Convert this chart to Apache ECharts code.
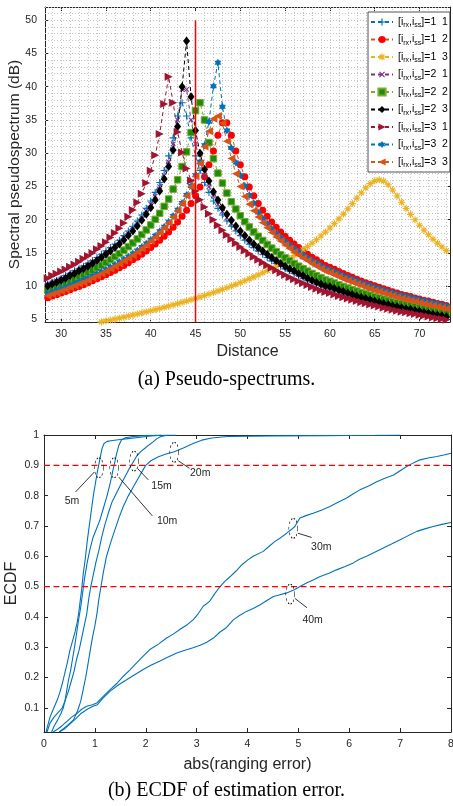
<!DOCTYPE html>
<html><head><meta charset="utf-8">
<script src="https://cdn.jsdelivr.net/npm/echarts@6/dist/echarts.min.js"></script>
<style>html,body{margin:0;padding:0;background:#fff}#main{width:453px;height:806px}</style>
</head><body><div id="main"></div>
<script>
// ---------- (a) pseudo-spectrum data ----------
const distance = [28.5,29,29.5,30,30.5,31,31.5,32,32.5,33,33.5,34,34.5,35,35.5,36,36.5,37,37.5,38,38.5,39,39.5,40,40.5,41,41.5,42,42.5,43,43.5,44,44.5,45,45.5,46,46.5,47,47.5,48,48.5,49,49.5,50,50.5,51,51.5,52,52.5,53,53.5,54,54.5,55,55.5,56,56.5,57,57.5,58,58.5,59,59.5,60,60.5,61,61.5,62,62.5,63,63.5,64,64.5,65,65.5,66,66.5,67,67.5,68,68.5,69,69.5,70,70.5,71,71.5,72,72.5,73];
const spec11 = [10.3,10.6,10.9,11.2,11.6,11.9,12.3,12.6,13.0,13.4,13.8,14.3,14.8,15.3,15.8,16.3,16.9,17.6,18.3,19.0,19.8,20.7,21.7,22.8,24.1,25.6,27.4,29.6,32.3,35.6,37.6,35.6,32.3,29.6,27.4,25.6,24.1,22.8,21.7,20.7,19.8,19.0,18.3,17.6,16.9,16.3,15.8,15.3,14.8,14.3,13.8,13.4,13.0,12.6,12.3,11.9,11.6,11.2,10.9,10.6,10.3,10.1,9.8,9.6,9.38,9.15,8.93,8.72,8.5,8.31,8.12,7.92,7.75,7.56,7.38,7.22,7.05,6.89,6.74,6.58,6.45,6.33,6.19,6.05,5.91,5.77,5.64,5.51,5.39,5.26];
const spec12 = [8.25,8.5,8.7,8.95,9.2,9.45,9.7,9.95,10.2,10.5,10.8,11.1,11.4,11.7,12.05,12.4,12.75,13.1,13.5,13.95,14.35,14.8,15.3,15.8,16.35,16.9,17.5,18.15,18.85,19.65,20.5,21.4,22.45,23.6,24.9,26.45,28.25,30.35,32.7,34.6,34.6,32.7,30.35,28.25,26.45,24.9,23.6,22.45,21.4,20.5,19.65,18.85,18.15,17.5,16.9,16.35,15.8,15.3,14.8,14.35,13.95,13.5,13.1,12.85,12.53,12.2,11.88,11.6,11.33,11.05,10.78,10.5,10.28,10.05,9.83,9.6,9.38,9.15,8.98,8.75,8.6,8.45,8.23,8.05,7.88,7.75,7.58,7.4,7.28,7.1];
const spec13 = [null,null,null,null,null,null,null,null,null,null,null,4.47,4.61,4.75,4.89,5.03,5.18,5.33,5.48,5.64,5.8,5.96,6.12,6.29,6.46,6.63,6.81,6.99,7.17,7.36,7.56,7.75,7.95,8.16,8.37,8.58,8.81,9.03,9.27,9.51,9.75,10.0,10.27,10.53,10.81,11.1,11.39,11.69,12.01,12.34,12.68,13.03,13.39,13.77,14.17,14.59,15.02,15.47,15.95,16.45,16.98,17.54,18.13,18.75,19.41,20.11,20.84,21.62,22.42,23.24,24.04,24.79,25.42,25.85,26.0,25.8,25.25,24.46,23.56,22.61,21.68,20.79,19.99,19.16,18.42,17.73,17.07,16.46,15.89,15.34];
const spec21 = [10.2,10.5,10.8,11.1,11.4,11.75,12.1,12.45,12.85,13.25,13.65,14.05,14.55,15.0,15.5,16.05,16.65,17.25,17.9,18.65,19.45,20.3,21.25,22.3,23.55,24.95,26.65,28.7,31.4,35.0,39.6,39.6,35.0,31.4,28.7,26.65,24.95,23.55,22.3,21.25,20.3,19.45,18.65,17.9,17.25,16.65,16.05,15.5,15.0,14.55,14.05,13.65,13.25,12.85,12.45,12.1,11.75,11.4,11.1,10.8,10.5,10.2,9.9,9.75,9.53,9.25,9.08,8.85,8.63,8.4,8.23,8.05,7.83,7.65,7.48,7.3,7.13,7.0,6.83,6.65,6.55,6.4,6.28,6.15,5.98,5.85,5.73,5.6,5.48,5.35];
const spec22 = [9.36,9.6,9.9,10.15,10.45,10.75,11.05,11.4,11.7,12.05,12.4,12.77,13.15,13.56,14.0,14.44,14.9,15.4,15.94,16.5,17.1,17.76,18.45,19.2,20.05,20.95,22.0,23.1,24.6,26.0,28.0,30.2,33.1,36.4,37.6,35.0,31.6,29.2,27.0,25.5,24.0,22.7,21.6,20.6,19.7,18.9,18.15,17.5,16.87,16.27,15.72,15.2,14.72,14.25,13.82,13.4,13.0,12.62,12.25,11.9,11.56,11.24,10.93,10.72,10.46,10.2,9.95,9.71,9.48,9.25,9.04,8.82,8.63,8.42,8.23,8.04,7.86,7.68,7.51,7.34,7.2,7.06,6.91,6.75,6.61,6.46,6.32,6.17,6.04,5.9];
const spec23 = [10.0,10.3,10.6,10.9,11.2,11.6,11.9,12.3,12.6,13.0,13.4,13.85,14.3,14.8,15.3,15.8,16.35,16.95,17.6,18.3,19.05,19.9,20.8,21.8,22.95,24.3,26.1,28.0,30.5,34.0,40.0,46.9,38.5,33.4,30.0,27.6,25.8,24.2,22.95,21.8,20.8,19.9,19.05,18.3,17.6,16.95,16.35,15.8,15.3,14.8,14.3,13.85,13.4,13.0,12.6,12.3,11.9,11.6,11.2,10.9,10.6,10.3,10.0,9.9,9.63,9.4,9.18,8.95,8.73,8.5,8.33,8.15,7.93,7.75,7.58,7.4,7.23,7.05,6.93,6.75,6.6,6.5,6.33,6.2,6.08,5.9,5.78,5.65,5.53,5.4];
const spec31 = [11.2,11.55,11.85,12.2,12.5,12.9,13.25,13.65,14.1,14.55,15.0,15.55,16.05,16.6,17.3,18.0,18.7,19.5,20.45,21.45,22.6,23.9,25.5,27.35,29.7,32.9,37.4,41.5,37.6,33.2,30.1,27.7,25.9,24.3,23.0,21.9,20.9,20.0,19.15,18.4,17.7,17.06,16.46,15.9,15.37,14.88,14.41,13.96,13.54,13.13,12.75,12.38,12.02,11.68,11.35,11.04,10.73,10.44,10.15,9.88,9.61,9.35,9.1,8.95,8.75,8.53,8.34,8.14,7.95,7.77,7.59,7.41,7.25,7.08,6.92,6.76,6.61,6.45,6.31,6.16,6.05,5.93,5.8,5.67,5.54,5.41,5.29,5.17,5.05,4.93];
const spec32 = [8.84,9.07,9.31,9.56,9.81,10.07,10.34,10.62,10.91,11.2,11.51,11.83,12.16,12.5,12.86,13.23,13.62,14.03,14.46,14.9,15.37,15.87,16.41,16.98,17.58,18.24,18.94,19.7,20.55,21.48,22.52,23.7,25.07,26.7,28.67,31.2,34.74,40.07,43.62,37.0,33.4,30.8,28.6,26.7,25.1,23.7,22.5,21.09,20.2,19.4,18.65,17.97,17.34,16.74,16.2,15.68,15.19,14.72,14.28,13.86,13.46,13.08,12.71,12.46,12.15,11.85,11.57,11.28,11.02,10.76,10.51,10.27,10.04,9.81,9.6,9.38,9.18,8.97,8.79,8.59,8.43,8.28,8.11,7.94,7.78,7.61,7.46,7.3,7.16,7.01];
const spec33 = [8.54,8.8,9.0,9.25,9.5,9.8,10.05,10.35,10.6,10.9,11.25,11.55,11.9,12.25,12.6,13.0,13.35,13.8,14.2,14.65,15.15,15.65,16.2,16.8,17.4,18.1,18.8,19.55,20.4,21.35,22.4,23.6,25.0,26.55,28.45,31.0,33.3,35.2,35.6,34.5,31.8,29.2,26.9,25.0,23.5,22.3,21.35,20.4,19.55,18.8,18.05,17.4,16.8,16.2,15.65,15.15,14.65,14.2,13.8,13.35,13.0,12.6,12.25,12.0,11.68,11.4,11.08,10.8,10.58,10.3,10.08,9.8,9.58,9.35,9.18,8.95,8.73,8.55,8.33,8.15,8.0,7.85,7.68,7.5,7.33,7.2,7.03,6.9,6.73,6.6];
const legendPairs = ['1  1','1  2','1  3','2  1','2  2','2  3','3  1','3  2','3  3'];
const xTicksA = [30,35,40,45,50,55,60,65,70];
const yTicksA = [5,10,15,20,25,30,35,40,45,50];
const trueDistance = 45;
const trueLineSpan = [4.6, 50];

// ---------- (b) ECDF data ----------
const ecdf5m = [[0.04,0.02],[0.08,0.045],[0.12,0.07],[0.17,0.09],[0.22,0.11],[0.27,0.13],[0.31,0.15],[0.36,0.18],[0.41,0.215],[0.46,0.25],[0.51,0.29],[0.56,0.32],[0.61,0.35],[0.65,0.38],[0.68,0.41],[0.71,0.45],[0.74,0.49],[0.77,0.54],[0.81,0.59],[0.85,0.65],[0.89,0.7],[0.93,0.75],[0.97,0.8],[1.01,0.84],[1.05,0.88],[1.08,0.905],[1.11,0.93],[1.14,0.955],[1.18,0.972],[1.24,0.979],[1.35,0.982],[1.5,0.985],[1.65,0.988],[1.85,0.992],[2.05,0.996],[2.3,0.999],[2.6,1.0]];
const ecdf10m = [[0.15,0.02],[0.2,0.04],[0.27,0.06],[0.33,0.08],[0.38,0.1],[0.42,0.13],[0.45,0.16],[0.48,0.19],[0.52,0.22],[0.56,0.26],[0.6,0.3],[0.64,0.345],[0.68,0.39],[0.72,0.43],[0.76,0.48],[0.8,0.53],[0.85,0.58],[0.9,0.62],[0.96,0.66],[1.03,0.69],[1.1,0.72],[1.17,0.76],[1.24,0.8],[1.3,0.84],[1.35,0.88],[1.39,0.91],[1.43,0.94],[1.47,0.965],[1.52,0.983],[1.6,0.991],[1.75,0.995],[2.0,0.998],[2.3,1.0]];
const ecdf15m = [[0.06,0.02],[0.12,0.05],[0.2,0.07],[0.28,0.085],[0.36,0.1],[0.42,0.125],[0.48,0.155],[0.54,0.19],[0.59,0.22],[0.64,0.26],[0.69,0.29],[0.74,0.33],[0.79,0.37],[0.84,0.41],[0.88,0.46],[0.92,0.5],[0.97,0.54],[1.02,0.58],[1.08,0.62],[1.13,0.66],[1.19,0.7],[1.26,0.74],[1.34,0.78],[1.43,0.81],[1.52,0.84],[1.6,0.865],[1.68,0.89],[1.75,0.91],[1.82,0.93],[1.9,0.945],[1.99,0.957],[2.07,0.968],[2.15,0.978],[2.22,0.988],[2.3,0.995],[2.45,1.0]];
const ecdf20m = [[0.3,0.02],[0.45,0.04],[0.58,0.06],[0.66,0.09],[0.72,0.12],[0.77,0.16],[0.82,0.2],[0.86,0.24],[0.9,0.28],[0.95,0.33],[1.0,0.37],[1.04,0.41],[1.08,0.46],[1.12,0.5],[1.17,0.55],[1.23,0.6],[1.31,0.645],[1.4,0.69],[1.48,0.73],[1.56,0.765],[1.66,0.8],[1.76,0.83],[1.86,0.86],[1.93,0.88],[2.0,0.9],[2.1,0.915],[2.25,0.928],[2.4,0.937],[2.56,0.945],[2.75,0.958],[2.93,0.972],[3.1,0.983],[3.3,0.99],[3.6,0.995],[4.5,0.997],[5.5,0.998],[6.5,0.999],[7.0,1.0]];
const ecdf30m = [[0.18,0.02],[0.27,0.03],[0.35,0.04],[0.45,0.055],[0.55,0.07],[0.64,0.08],[0.74,0.095],[0.84,0.105],[0.95,0.11],[1.04,0.116],[1.15,0.135],[1.3,0.16],[1.43,0.18],[1.56,0.204],[1.69,0.225],[1.82,0.248],[1.95,0.27],[2.08,0.292],[2.25,0.31],[2.41,0.33],[2.54,0.343],[2.67,0.358],[2.8,0.372],[2.93,0.39],[3.03,0.41],[3.13,0.435],[3.25,0.45],[3.35,0.475],[3.46,0.5],[3.56,0.518],[3.66,0.533],[3.78,0.552],[3.89,0.572],[4.0,0.587],[4.11,0.6],[4.31,0.616],[4.42,0.632],[4.54,0.649],[4.66,0.662],[4.77,0.676],[4.86,0.688],[4.93,0.698],[5.03,0.726],[5.15,0.734],[5.29,0.742],[5.45,0.752],[5.62,0.764],[5.78,0.778],[5.95,0.792],[6.08,0.806],[6.21,0.819],[6.38,0.832],[6.54,0.846],[6.7,0.857],[6.87,0.868],[7.0,0.882],[7.13,0.896],[7.26,0.908],[7.39,0.918],[7.55,0.924],[7.72,0.929],[7.86,0.934],[8.0,0.94]];
const ecdf40m = [[0.3,0.02],[0.4,0.03],[0.5,0.045],[0.6,0.06],[0.72,0.08],[0.85,0.095],[0.96,0.105],[1.05,0.11],[1.15,0.13],[1.3,0.155],[1.46,0.175],[1.63,0.193],[1.79,0.21],[1.95,0.226],[2.1,0.24],[2.28,0.254],[2.45,0.268],[2.61,0.281],[2.77,0.29],[2.93,0.298],[3.07,0.306],[3.2,0.316],[3.33,0.33],[3.46,0.35],[3.59,0.365],[3.72,0.39],[3.85,0.405],[3.98,0.418],[4.12,0.428],[4.25,0.44],[4.38,0.454],[4.51,0.467],[4.64,0.473],[4.77,0.479],[4.93,0.49],[5.05,0.502],[5.16,0.512],[5.3,0.522],[5.43,0.533],[5.6,0.544],[5.75,0.555],[5.92,0.566],[6.08,0.578],[6.2,0.59],[6.34,0.6],[6.5,0.613],[6.67,0.627],[6.83,0.64],[7.0,0.654],[7.16,0.668],[7.33,0.682],[7.5,0.691],[7.65,0.698],[7.82,0.705],[8.0,0.711]];
const ecdfLabels = ['5m','10m','15m','20m','30m','40m'];
const ellipseCenters = [[1.08,0.892],[1.38,0.892],[1.77,0.914],[2.56,0.943],[4.90,0.692],[4.84,0.475]];
const arrowStarts = [[0.99,0.878],[1.47,0.861],[1.84,0.889],[2.64,0.915],[4.99,0.676],[4.93,0.461]];
const arrowEnds = [[0.62,0.812],[2.13,0.733],[2.05,0.852],[2.86,0.89],[5.26,0.662],[5.17,0.43]];
const labelPositions = [[0.55,0.782],[2.42,0.717],[2.31,0.832],[3.07,0.874],[5.45,0.629],[5.28,0.389]];
const refLevels = [0.9, 0.5];
const errorSpan = [0, 8];
const xTicksB = [0,1,2,3,4,5,6,7,8];
const yTicksB = [0.1,0.2,0.3,0.4,0.5,0.6,0.7,0.8,0.9,1];

// ---------- styles ----------
const FONT = '"Liberation Sans", Arial, Helvetica, sans-serif';
const SERIF = '"Liberation Serif", "Times New Roman", serif';
const AX = '#262626';
const RED = '#FF0000';
const PLUS = 'path://M4.2,0H5.8V4.2H10V5.8H5.8V10H4.2V5.8H0V4.2H4.2Z';
const ASTER = 'path://M4.2,0H5.8V10H4.2Z M0,4.2H10V5.8H0Z M2.07,0.93L9.07,7.93L7.93,9.07L0.93,2.07Z M7.93,0.93L9.07,2.07L2.07,9.07L0.93,7.93Z';
const HEX = 'path://M5,0L6.44,2.5L9.33,2.5L7.89,5L9.33,7.5L6.44,7.5L5,10L3.56,7.5L0.67,7.5L2.11,5L0.67,2.5L3.56,2.5Z';
const ELLIPSE = 'path://M10,10L9.62,13.83L8.54,17.07L6.91,19.24L5,20L3.09,19.24L1.46,17.07L0.38,13.83L0,10L0.38,6.17L1.46,2.93L3.09,0.76L5,0L6.91,0.76L8.54,2.93L9.62,6.17Z';

const specValues = [spec11, spec12, spec13, spec21, spec22, spec23, spec31, spec32, spec33];
const specStyles = [
  {line:'#0072BD', fill:'#0072BD', symbol:PLUS, size:7},
  {line:'#D95319', fill:'#FF0000', symbol:'circle', size:7},
  {line:'#EDB120', fill:'#EDB120', symbol:ASTER, size:7},
  {line:'#7E2F8E', fill:'#7E2F8E', symbol:PLUS, size:6.5, rotate:45},
  {line:'#77AC30', fill:'#1E8A0A', border:'#77AC30', symbol:'rect', size:6.5},
  {line:'#000000', fill:'#000000', symbol:'diamond', size:[7,9]},
  {line:'#A2142F', fill:'#A2142F', symbol:'triangle', size:8, rotate:-90},
  {line:'#0072BD', fill:'#0072BD', symbol:HEX, size:8, keep:true},
  {line:'#D95319', fill:'#D95319', symbol:'triangle', size:8, rotate:90}
];

function axis(gi, pos, min, max, ticks, labels, extra) {
  return Object.assign({
    gridIndex: gi, type: 'value', position: pos, min: min, max: max,
    axisLine: {show: true, onZero: false, lineStyle: {color: AX, width: 1}},
    axisTick: {show: true, inside: true, length: 4, customValues: ticks, lineStyle: {color: AX, width: 1}},
    axisLabel: {show: labels, customValues: ticks, fontSize: 10.5, color: AX, fontFamily: FONT},
    splitLine: {show: false}, minorTick: {show: false}, minorSplitLine: {show: false},
    nameMoveOverlap: false
  }, extra || {});
}

const gridLines = [];
for (let v = 29; v <= 73; v++) if (v !== trueDistance) gridLines.push({xAxis: v});
for (let v = 5; v <= 52; v++) gridLines.push({yAxis: v});

const series = [];
series.push({
  type: 'line', xAxisIndex: 0, yAxisIndex: 0, data: [], silent: true, color: '#c4c4c4',
  markLine: {silent: true, z: 1, animation: false, symbol: ['none','none'], label: {show: false},
    lineStyle: {color: '#c4c4c4', width: 1, type: [1,2]}, emphasis: {disabled: true}, data: gridLines}
});
specValues.forEach((vals, k) => {
  const st = specStyles[k];
  series.push({
    name: legendPairs[k], type: 'line', xAxisIndex: 0, yAxisIndex: 0,
    data: distance.map((d, i) => [d, vals[i]]),
    symbol: st.symbol, symbolSize: st.size, symbolRotate: st.rotate || 0, symbolKeepAspect: !!st.keep,
    showSymbol: true, showAllSymbol: true, clip: true, z: 2,
    lineStyle: {color: st.line, width: 1, type: [4,3]},
    itemStyle: {color: st.fill, borderColor: st.border || st.fill, borderWidth: st.border ? 1 : 0},
    emphasis: {disabled: true}
  });
});
// true-distance vertical line
series.push({
  name: 'true distance', type: 'line', xAxisIndex: 0, yAxisIndex: 0, silent: true, z: 5,
  data: trueLineSpan.map(v => [trueDistance, v]), symbol: 'none', showSymbol: false,
  color: RED, lineStyle: {color: RED, width: 1.5, type: 'solid', cap: 'butt'}, emphasis: {disabled: true}
});

// ECDF curves
[ecdf5m, ecdf10m, ecdf15m, ecdf20m, ecdf30m, ecdf40m].forEach((pts, k) => {
  series.push({
    name: 'ECDF ' + ecdfLabels[k], type: 'line', xAxisIndex: 2, yAxisIndex: 2, data: pts,
    symbol: 'none', showSymbol: false, clip: true, z: 2, color: '#0072BD',
    lineStyle: {color: '#0072BD', width: 1.1}, emphasis: {disabled: true}
  });
});
// reference levels
refLevels.forEach(lv => {
  series.push({
    name: 'level ' + lv, type: 'line', xAxisIndex: 2, yAxisIndex: 2, silent: true, z: 3,
    data: errorSpan.map(x => [x, lv]), symbol: 'none', showSymbol: false,
    color: RED, lineStyle: {color: RED, width: 1.2, type: [6,3.5]}, emphasis: {disabled: true}
  });
});
// arrows
series.push({
  type: 'line', xAxisIndex: 2, yAxisIndex: 2, data: [], silent: true, color: '#000',
  markLine: {silent: true, z: 4, animation: false, symbol: ['none','arrow'], symbolSize: [0, 11], label: {show: false},
    itemStyle: {color: '#000'}, lineStyle: {color: '#000', width: 0.8, type: 'solid'}, emphasis: {disabled: true},
    data: arrowStarts.map((s, i) => [{coord: s}, {coord: arrowEnds[i]}])}
});
// ellipses
series.push({
  type: 'line', xAxisIndex: 2, yAxisIndex: 2, data: [], silent: true,
  markPoint: {silent: true, z: 4, animation: false, symbol: ELLIPSE, symbolSize: [9, 20], label: {show: false},
    itemStyle: {color: 'rgba(0,0,0,0)', borderColor: '#000', borderWidth: 0.8, borderType: [2,2]},
    emphasis: {disabled: true},
    data: ellipseCenters.map(c => ({coord: c}))}
});
// labels
series.push({
  type: 'line', xAxisIndex: 2, yAxisIndex: 2, data: [], silent: true,
  markPoint: {silent: true, z: 4, animation: false, symbol: 'circle', symbolSize: 1,
    itemStyle: {color: 'rgba(0,0,0,0)'},
    label: {show: true, position: 'inside', formatter: p => p.name, fontSize: 10.5, color: '#262626', fontFamily: FONT},
    emphasis: {disabled: true},
    data: labelPositions.map((c, i) => ({coord: c, name: ecdfLabels[i]}))}
});

const option = {
  animation: false,
  backgroundColor: '#fff',
  title: [
    {text: '(a) Pseudo-spectrums.', left: 'center', top: 370, padding: 0,
      textStyle: {fontFamily: SERIF, fontSize: 20, fontWeight: 'normal', color: '#000'}},
    {text: '(b) ECDF of estimation error.', left: 'center', top: 781, padding: 0,
      textStyle: {fontFamily: SERIF, fontSize: 20, fontWeight: 'normal', color: '#000'}}
  ],
  grid: [
    {left: 45, top: 7, width: 405, height: 315, containLabel: false, outerBoundsMode: 'none'},
    {left: 44, top: 435, width: 407, height: 297, containLabel: false, outerBoundsMode: 'none'}
  ],
  legend: {
    data: legendPairs, orient: 'vertical', left: 368, top: 12, padding: [3, 2, 3, 2],
    itemGap: 3.5, itemWidth: 22, itemHeight: 9, itemTextGap: 3,
    backgroundColor: '#fff', borderColor: AX, borderWidth: 0.8, borderRadius: 0,
    selectedMode: false,
    formatter: n => '[i{s|rx},i{s|ss}]=' + n,
    textStyle: {fontFamily: FONT, fontSize: 10.5, color: '#000', lineHeight: 14,
      rich: {s: {fontFamily: FONT, fontSize: 7, lineHeight: 8, verticalAlign: 'bottom', color: '#000'}}}
  },
  xAxis: [
    axis(0, 'bottom', 28.2, 73.4, xTicksA, true, {axisLabel: {show: true, customValues: xTicksA, margin: 7, fontSize: 10.5, color: AX, fontFamily: FONT},
      name: 'Distance', nameLocation: 'middle', nameGap: 22, nameTextStyle: {fontSize: 16, color: AX, fontFamily: FONT}}),
    axis(0, 'top', 28.2, 73.4, xTicksA, false),
    axis(1, 'bottom', 0, 8, xTicksB, true, {axisLabel: {show: true, customValues: xTicksB, margin: 7, fontSize: 10.5, color: AX, fontFamily: FONT},
      name: 'abs(ranging error)', nameLocation: 'middle', nameGap: 25, nameTextStyle: {fontSize: 16, color: AX, fontFamily: FONT}}),
    axis(1, 'top', 0, 8, xTicksB, false)
  ],
  yAxis: [
    axis(0, 'left', 4.6, 52, yTicksA, true, {axisLabel: {show: true, customValues: yTicksA, margin: 8, fontSize: 10.5, color: AX, fontFamily: FONT},
      name: 'Spectral pseudospectrum (dB)', nameLocation: 'middle', nameGap: 22, nameTextStyle: {fontSize: 15.5, color: AX, fontFamily: FONT}}),
    axis(0, 'right', 4.6, 52, yTicksA, false),
    axis(1, 'left', 0.02, 1, yTicksB, true, {axisLabel: {show: true, customValues: yTicksB, margin: 5, fontSize: 10.5, color: AX, fontFamily: FONT},
      name: 'ECDF', nameLocation: 'middle', nameGap: 24, nameTextStyle: {fontSize: 16, color: AX, fontFamily: FONT}}),
    axis(1, 'right', 0.02, 1, yTicksB, false)
  ],
  series: series
};

const chart = echarts.init(document.getElementById('main'), null, {renderer: 'canvas'});
chart.setOption(option);
</script>
</body></html>
